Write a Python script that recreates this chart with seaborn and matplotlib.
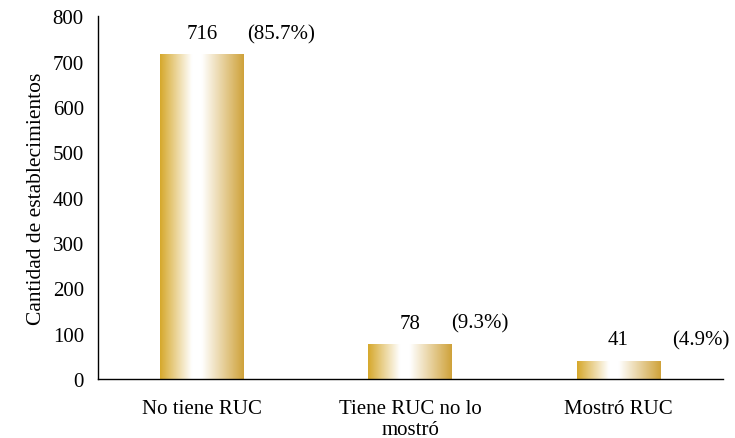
import matplotlib
matplotlib.use("Agg")
import matplotlib.pyplot as plt
import numpy as np
import pandas as pd
import seaborn as sns
from matplotlib.colors import LinearSegmentedColormap

categorias = ["No tiene RUC", "Tiene RUC no lo\nmostró", "Mostró RUC"]
cantidades = [716, 78, 41]
porcentajes = ["(85.7%)", "(9.3%)", "(4.9%)"]

df = pd.DataFrame({"categoria": categorias, "cantidad": cantidades})

sns.set_style("white")
plt.rcParams["font.family"] = ["Liberation Serif", "DejaVu Serif"]
plt.rcParams["text.color"] = "black"
plt.rcParams["xtick.color"] = "black"
plt.rcParams["ytick.color"] = "black"
plt.rcParams["axes.labelcolor"] = "black"

fig, ax = plt.subplots(figsize=(7.35, 4.39), dpi=100)
fig.subplots_adjust(left=0.133, right=0.983, top=0.961, bottom=0.134)

sns.barplot(data=df, x="categoria", y="cantidad", color="#D4A62A", width=0.4, ax=ax)

# golden gradient fill, clipped to each bar
oro = LinearSegmentedColormap.from_list(
    "oro", [(0, "#D6A82C"), (0.38, "#FFFFFF"), (0.5, "#FFFFFF"), (1, "#CFA23A")])
grad = np.linspace(0, 1, 256).reshape(1, -1)
for p in ax.patches:
    x0, y0 = p.get_x(), p.get_y()
    w, h = p.get_width(), p.get_height()
    im = ax.imshow(grad, cmap=oro, aspect="auto", extent=[x0, x0 + w, y0, y0 + h],
                   zorder=p.get_zorder() + 0.1, interpolation="bilinear")
    im.set_clip_path(p)
    p.set_edgecolor("none")

# value + percentage labels
desplaz = [57, 50, 59]
for i, p in enumerate(ax.patches):
    cx = p.get_x() + p.get_width() / 2
    top = p.get_height()
    ax.annotate(f"{cantidades[i]}", (cx, top), xytext=(0, 8), textcoords="offset points",
                ha="center", va="bottom", fontsize=15)
    ax.annotate(porcentajes[i], (cx, top), xytext=(desplaz[i], 8),
                textcoords="offset points", ha="center", va="bottom", fontsize=15)

ax.set_xlim(-0.5, 2.5)
ax.set_ylim(0, 800)
ax.set_yticks(range(0, 801, 100))
ax.set_xlabel("")
ax.set_ylabel("Cantidad de establecimientos", fontsize=15.5, labelpad=5)
ax.tick_params(axis="y", direction="out", length=5, width=1, labelsize=15, pad=5)
ax.tick_params(axis="x", length=0, labelsize=15, pad=14)
for lbl in ax.get_xticklabels():
    lbl.set_linespacing(1.2)
sns.despine(ax=ax)
for s in ["left", "bottom"]:
    ax.spines[s].set_color("black")
    ax.spines[s].set_linewidth(1)

fig.savefig("out.png", dpi=100)
